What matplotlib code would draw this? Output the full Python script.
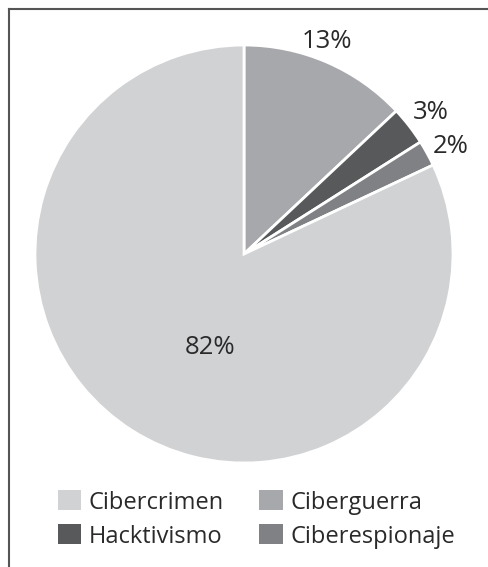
import matplotlib
matplotlib.use("Agg")
import matplotlib.pyplot as plt
from matplotlib.patches import Patch
from matplotlib.lines import Line2D
import numpy as np

plt.rcParams['font.family'] = ['Open Sans', 'DejaVu Sans']

categories = ["Ciberguerra", "Hacktivismo", "Ciberespionaje", "Cibercrimen"]
values = [13, 3, 2, 82]
labels = ["13%", "3%", "2%", "82%"]
colors = ["#a7a8ab", "#58595b", "#808184", "#d1d2d4"]

W, H = 489, 567
fig = plt.figure(figsize=(W/100, H/100), dpi=100)

# frame lines (top and left)
fig.add_artist(Line2D([9/W, 1], [1-9/H, 1-9/H], color="#555555", lw=1.5, transform=fig.transFigure))
fig.add_artist(Line2D([9/W, 9/W], [0, 1-9/H], color="#555555", lw=1.5, transform=fig.transFigure))

cx, cy, r = 244, 254, 209
ax = fig.add_axes([(cx-r)/W, (H-cy-r)/H, 2*r/W, 2*r/H])
wedges, texts = ax.pie(values, colors=colors, startangle=90, counterclock=False,
                       labels=labels, labeldistance=1.09,
                       wedgeprops=dict(edgecolor="white", linewidth=2),
                       textprops=dict(fontsize=18.5, color="#2a2a2a", fontweight="normal"))
# label placement (radius, angle in degrees)
label_pos = [(1.09, 68.6), (1.12, 37.2), (1.115, 27.6), (0.475, -110.0)]
for t, (rr, aa) in zip(texts, label_pos):
    t.set_ha("center"); t.set_va("center")
    t.set_position((rr*np.cos(np.radians(aa)), rr*np.sin(np.radians(aa))))
ax.set_xlim(-1, 1); ax.set_ylim(-1, 1)
ax.set_aspect("auto")
ax.axis("off")

order = [3, 1, 0, 2]
handles = [Patch(facecolor=colors[i], edgecolor="none") for i in order]
names = [categories[i] for i in order]
fig.legend(handles, names, ncol=2, loc="center", bbox_to_anchor=(256.5/W, 1-519.5/H),
           frameon=False, prop=dict(size=17, weight="normal"), handlelength=0.98,
           handleheight=0.92, handletextpad=0.33, columnspacing=1.5, labelspacing=0.42,
           labelcolor="#2a2a2a", borderpad=0, borderaxespad=0)

fig.savefig("out.png", dpi=100)
